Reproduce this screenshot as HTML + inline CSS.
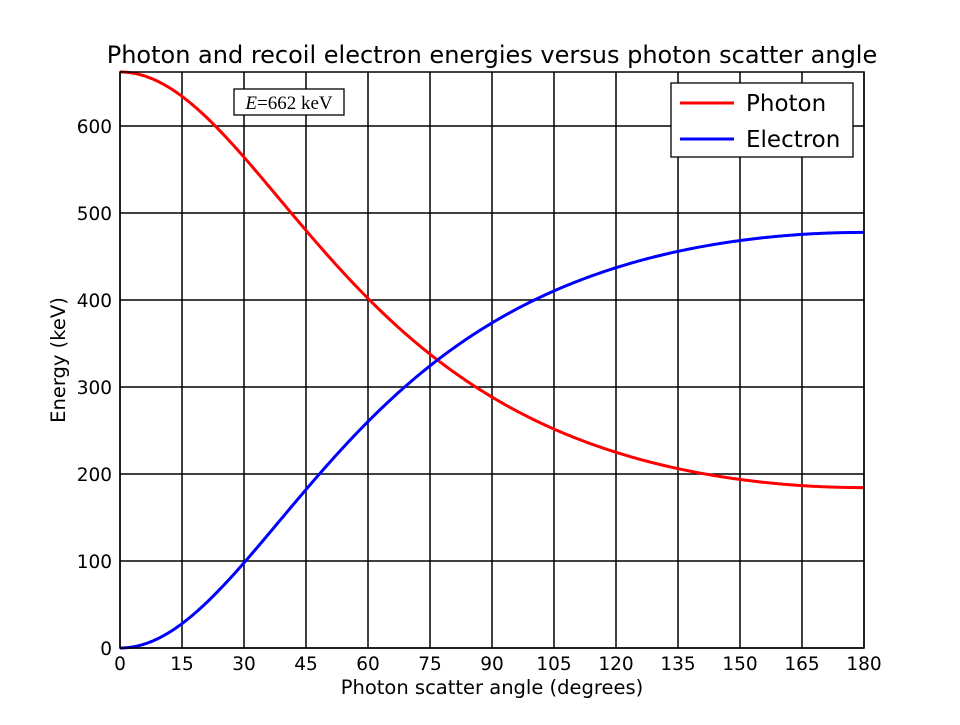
<!DOCTYPE html>
<html><head><meta charset="utf-8"><style>
body{margin:0;background:#fff;}
svg text{font-family:"DejaVu Sans","Liberation Sans",sans-serif;}
</style></head><body>
<svg id="s" width="960" height="720" xmlns="http://www.w3.org/2000/svg">
<rect width="960" height="720" fill="#fff"/>
<g id="grid" stroke="#000" stroke-width="1.5"></g>
<path id="ph" fill="none" stroke="#ff0000" stroke-width="3"/>
<path id="el" fill="none" stroke="#0000ff" stroke-width="3"/>
<rect x="120" y="72" width="744" height="576" fill="none" stroke="#000" stroke-width="1.5"/>
<g id="lab" font-size="18.5" fill="#000"></g>
<text x="492" y="63" font-size="24" text-anchor="middle">Photon and recoil electron energies versus photon scatter angle</text>
<text x="492" y="694" font-size="19.5" text-anchor="middle">Photon scatter angle (degrees)</text>
<text transform="translate(65,360) rotate(-90)" font-size="19.5" text-anchor="middle">Energy (keV)</text>
<rect x="234" y="89" width="110" height="26" fill="#fff" stroke="#000" stroke-width="1.3"/>
<text x="289" y="109" font-size="19" text-anchor="middle" style="font-family:'Liberation Serif',serif"><tspan font-style="italic">E</tspan>=662 keV</text>
<rect x="671" y="83" width="182" height="74" fill="#fff" stroke="#000" stroke-width="1.3"/>
<line x1="680" y1="103" x2="734" y2="103" stroke="#ff0000" stroke-width="3"/>
<line x1="680" y1="139" x2="734" y2="139" stroke="#0000ff" stroke-width="3"/>
<text x="746" y="111" font-size="23">Photon</text>
<text x="746" y="147" font-size="23">Electron</text>
</svg>
<script>
var g=document.getElementById('grid'),l=document.getElementById('lab'),ns='http://www.w3.org/2000/svg';
function X(a){return 120+a*744/180;}function Y(e){return 648-e*576/662;}
function el(t,at,p,tx){var e=document.createElementNS(ns,t);for(var k in at)e.setAttribute(k,at[k]);if(tx!=null)e.textContent=tx;p.appendChild(e);}
for(var a=0;a<=180;a+=15){el('line',{x1:X(a),x2:X(a),y1:72,y2:648},g);el('text',{x:X(a),y:670,'text-anchor':'middle'},l,a);}
for(var v=0;v<=600;v+=100){el('line',{x1:120,x2:864,y1:Y(v),y2:Y(v)},g);el('text',{x:112,y:Y(v)+7,'text-anchor':'end'},l,v);}
var p='',q='';for(var i=0;i<=360;i++){var a=i/2,th=a*Math.PI/180,E=662/(1+662/511*(1-Math.cos(th)));
p+=(i?'L':'M')+X(a).toFixed(2)+','+Y(E).toFixed(2);q+=(i?'L':'M')+X(a).toFixed(2)+','+Y(662-E).toFixed(2);}
document.getElementById('ph').setAttribute('d',p);document.getElementById('el').setAttribute('d',q);
</script>
</body></html>
